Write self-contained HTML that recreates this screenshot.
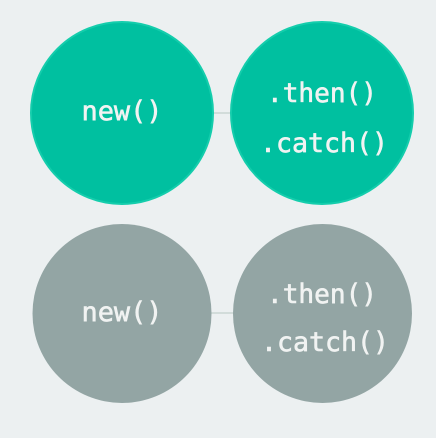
<!DOCTYPE html>
<html><head><style>
html,body{margin:0;padding:0;background:#ecf0f1;}
svg{display:block}
text{font-family:"DejaVu Sans Mono","Liberation Mono",monospace;font-size:27px;fill:#f1f3f2;stroke:#f1f3f2;stroke-width:0.6;text-anchor:middle}
</style></head><body>
<svg width="436" height="438" viewBox="0 0 436 438">
<rect width="436" height="438" fill="#ecf0f1"/>
<line x1="210" y1="113" x2="235" y2="113" stroke="#c9d6d3" stroke-width="1.5"/>
<line x1="210" y1="313" x2="235" y2="313" stroke="#c9d6d3" stroke-width="1.5"/>
<circle cx="122" cy="113" r="91" fill="#00c0a0" stroke="#14cdac" stroke-width="2"/>
<circle cx="322" cy="113" r="91" fill="#00c0a0" stroke="#14cdac" stroke-width="2"/>
<circle cx="122" cy="313.5" r="89.5" fill="#93a5a4"/>
<circle cx="322.5" cy="313.5" r="89.5" fill="#93a5a4"/>
<text x="122" y="120" textLength="81" lengthAdjust="spacingAndGlyphs">new()</text>
<text x="322" y="102" textLength="110" lengthAdjust="spacingAndGlyphs">.then()</text>
<text x="324" y="152" textLength="128" lengthAdjust="spacingAndGlyphs">.catch()</text>
<text x="122" y="321" textLength="81" lengthAdjust="spacingAndGlyphs">new()</text>
<text x="322" y="303" textLength="110" lengthAdjust="spacingAndGlyphs">.then()</text>
<text x="325" y="351" textLength="128" lengthAdjust="spacingAndGlyphs">.catch()</text>
</svg>
</body></html>
